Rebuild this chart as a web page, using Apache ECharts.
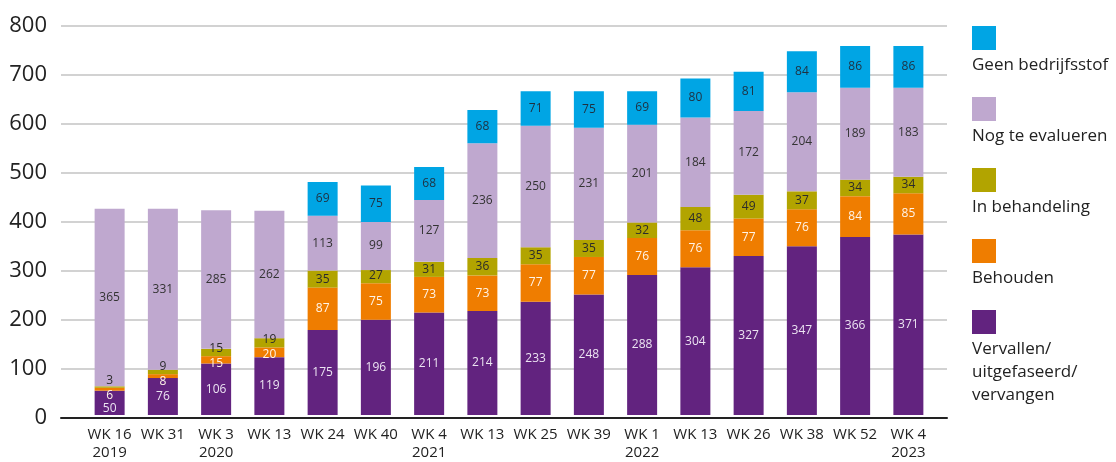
<!DOCTYPE html>
<html>
<head>
<meta charset="utf-8">
<script src="https://cdn.jsdelivr.net/npm/echarts@6/dist/echarts.min.js"></script>
<style>
  html, body { margin: 0; padding: 0; background: #fff; }
  #chart { width: 1116px; height: 462px; }
</style>
</head>
<body>
<div id="chart"></div>
<script>
// categorieen (week + jaar)
var weeks = ["WK 16\n2019", "WK 31", "WK 3\n2020", "WK 13", "WK 24", "WK 40", "WK 4\n2021", "WK 13",
  "WK 25", "WK 39", "WK 1\n2022", "WK 13", "WK 26", "WK 38", "WK 52", "WK 4\n2023"];

// waarden per status, van onder naar boven
var vervallen = [50, 76, 106, 119, 175, 196, 211, 214, 233, 248, 288, 304, 327, 347, 366, 371];
var behouden = [6, 8, 15, 20, 87, 75, 73, 73, 77, 77, 76, 76, 77, 76, 84, 85];
var inBehandeling = [3, 9, 15, 19, 35, 27, 31, 36, 35, 35, 32, 48, 49, 37, 34, 34];
var nogTeEvalueren = [365, 331, 285, 262, 113, 99, 127, 236, 250, 231, 201, 184, 172, 204, 189, 183];
var geenBedrijfsstof = [0, 0, 0, 0, 69, 75, 68, 68, 71, 75, 69, 80, 81, 84, 86, 86];

var yTicks = [0, 100, 200, 300, 400, 500, 600, 700, 800];

// shift: hoe een label wijkt als het segment te klein is (-1 omhoog, 1 omlaag)
var seriesDefs = [
  { name: "Vervallen/\nuitgefaseerd/\nvervangen", data: vervallen, color: "#62237f", label: "#ece4f2", shift: 0 },
  { name: "Behouden", data: behouden, color: "#ef7d00", label: "#fff4e8", shift: 1 },
  { name: "In behandeling", data: inBehandeling, color: "#b2a400", label: "#2b2b2b", shift: -1 },
  { name: "Nog te evalueren", data: nogTeEvalueren, color: "#bfa8cf", label: "#333333", shift: 0 },
  { name: "Geen bedrijfsstof", data: geenBedrijfsstof, color: "#00a5e4", label: "#1f3040", shift: 0 }
];

var myChart = echarts.init(document.getElementById("chart"));
var fontFam = "'Open Sans', 'Noto Sans', sans-serif";

var series = seriesDefs.map(function (s, si) {
  return {
    name: s.name,
    type: "bar",
    stack: "totaal",
    xAxisIndex: 1,
    yAxisIndex: 1,
    barWidth: 30,
    data: s.data,
    itemStyle: { color: s.color },
    label: {
      show: true,
      position: "inside",
      color: s.label,
      fontSize: 12,
      fontFamily: fontFam,
      formatter: function (p) { return p.value ? p.value : ""; }
    },
    labelLayout: function (params) {
      var lh = 15;
      var h = params.rect.height;
      if (s.shift !== 0 && h < lh) {
        return { dy: s.shift * (lh - h) / 2 };
      }
      if (si === 0 && h < 30) {
        return { dy: 6 };
      }
      return {};
    }
  };
});

// legenda: blokje boven de tekst
var legendItems = seriesDefs.slice().reverse();
var graphics = [];
legendItems.forEach(function (s, i) {
  var top = 26 + i * 71;
  graphics.push({
    type: "rect",
    left: 972,
    top: top,
    shape: { width: 24, height: 24 },
    style: { fill: s.color }
  });
  graphics.push({
    type: "text",
    left: 972,
    top: top + 28,
    style: {
      text: s.name,
      fill: "#222",
      font: "17px " + fontFam,
      lineHeight: 23
    }
  });
});

var option = {
  animation: false,
  grid: [
    { left: 61, right: 169, top: 26, bottom: 44 },
    { left: 83, right: 181, top: 26, bottom: 44 }
  ],
  xAxis: [
    {
      gridIndex: 0,
      type: "value",
      min: 0,
      max: 1,
      axisLine: { show: true, lineStyle: { color: "#222", width: 2 } },
      axisTick: { show: false },
      axisLabel: { show: false },
      splitLine: { show: false }
    },
    {
      gridIndex: 1,
      type: "category",
      data: weeks,
      axisLine: { show: false },
      axisTick: { show: false },
      axisLabel: {
        color: "#222",
        fontSize: 15,
        lineHeight: 18,
        margin: 11,
        fontFamily: fontFam,
        interval: 0
      }
    }
  ],
  yAxis: [
    {
      gridIndex: 0,
      type: "value",
      min: yTicks[0],
      max: yTicks[yTicks.length - 1],
      interval: 100,
      axisLine: { show: false },
      axisTick: { show: false },
      axisLabel: { color: "#222", fontSize: 22, margin: 14, fontFamily: fontFam },
      splitLine: { lineStyle: { color: "#d2d2d2", width: 2 } }
    },
    {
      gridIndex: 1,
      type: "value",
      min: 0,
      max: 800,
      interval: 100,
      show: false
    }
  ],
  graphic: graphics,
  series: series
};

option && myChart.setOption(option);
</script>
</body>
</html>
